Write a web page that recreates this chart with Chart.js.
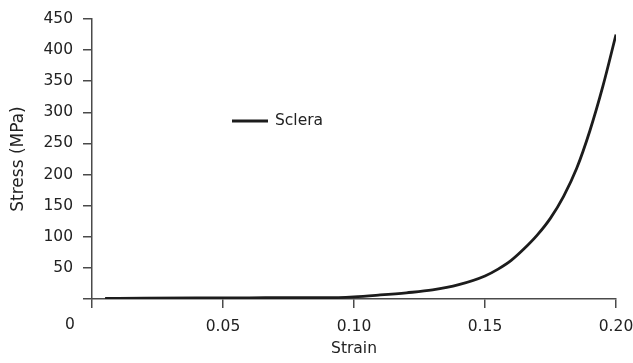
<!DOCTYPE html>
<html>
<head>
<meta charset="utf-8">
<script src="https://cdn.jsdelivr.net/npm/chart.js@4"></script>
<style>
  html, body { margin: 0; padding: 0; background: #fff; }
  #wrap { width: 633px; height: 363px; position: relative; }
</style>
</head>
<body>
<div id="wrap"><canvas id="sclera-chart"></canvas></div>
<script>
//
// Stress-strain curve
//

// Data
var strain = [0.005, 0.02, 0.04, 0.06, 0.075, 0.09, 0.10, 0.11, 0.12, 0.13, 0.14, 0.15, 0.155, 0.16, 0.165, 0.17, 0.175, 0.18, 0.185, 0.19, 0.195, 0.20];
var stress = [1, 1.3, 1.6, 1.8, 2.2, 2, 3.5, 6.5, 10, 14.5, 23, 37, 48, 62, 81, 103, 130, 165, 210, 270, 342, 425];
var seriesName = 'Sclera';
var xTicks = [0, 0.05, 0.10, 0.15, 0.20];
var yTicks = [0, 50, 100, 150, 200, 250, 300, 350, 400, 450];

var ink = '#222';
var axisColor = '#4a4a4a';
var font = { family: '"DejaVu Sans", sans-serif', size: 15.5 };
var titleFont = { family: '"DejaVu Sans", sans-serif', size: 17 };

var points = strain.map(function(x, i) { return { x: x, y: stress[i] }; });

// Legend entry and the shared origin label
var extras = {
	id: 'extras',
	afterDraw: function(chart) {
		var ctx = chart.ctx;
		var area = chart.chartArea;
		var xs = chart.scales.x;
		var ys = chart.scales.y;

		ctx.save();
		ctx.strokeStyle = '#1c1c1c';
		ctx.lineWidth = 2.8;
		ctx.beginPath();
		ctx.moveTo(area.left + 140, area.top + 102);
		ctx.lineTo(area.left + 176, area.top + 102);
		ctx.stroke();

		ctx.fillStyle = ink;
		ctx.font = font.size + 'px ' + font.family;
		ctx.textBaseline = 'middle';
		ctx.textAlign = 'left';
		ctx.fillText(seriesName, area.left + 183, area.top + 102);

		ctx.textAlign = 'center';
		ctx.fillText('0', xs.getPixelForValue(0) - 22, ys.getPixelForValue(0) + 26);
		ctx.restore();
	}
};

var chart = new Chart(document.getElementById('sclera-chart'), {
	type: 'line',
	data: {
		datasets: [{
			label: seriesName,
			data: points,
			borderColor: '#1c1c1c',
			borderWidth: 2.8,
			pointRadius: 0,
			cubicInterpolationMode: 'monotone',
			fill: false
		}]
	},
	options: {
		responsive: true,
		maintainAspectRatio: false,
		animation: false,
		layout: { padding: { top: 19, right: 17, left: 0, bottom: 0 } },
		plugins: {
			legend: { display: false },
			tooltip: { enabled: false }
		},
		scales: {
			x: {
				type: 'linear',
				min: 0,
				max: 0.2,
				afterBuildTicks: function(scale) {
					scale.ticks = xTicks.map(function(v) { return { value: v }; });
				},
				afterFit: function(scale) {
					scale.height = 64;
					scale.paddingLeft = 0;
					scale.paddingRight = 0;
				},
				border: { display: true, color: axisColor, width: 1.5 },
				grid: { drawOnChartArea: false, drawTicks: true, tickLength: 9, color: axisColor, lineWidth: 1.5 },
				ticks: {
					color: ink,
					font: font,
					padding: 10,
					maxRotation: 0,
					callback: function(v) { return v === 0 ? '' : v.toFixed(2); }
				},
				title: { display: true, text: 'Strain', color: ink, font: font, padding: { top: 0, bottom: 5 } }
			},
			y: {
				min: 0,
				max: 450,
				afterBuildTicks: function(scale) {
					scale.ticks = yTicks.map(function(v) { return { value: v }; });
				},
				afterFit: function(scale) {
					scale.width = 92;
					scale.paddingTop = 0;
					scale.paddingBottom = 0;
				},
				border: { display: true, color: axisColor, width: 1.5 },
				grid: { drawOnChartArea: false, drawTicks: true, tickLength: 9, color: axisColor, lineWidth: 1.5 },
				ticks: {
					color: ink,
					font: font,
					padding: 10,
					callback: function(v) { return v === 0 ? '' : v; }
				},
				title: { display: true, text: 'Stress (MPa)', color: ink, font: titleFont, padding: { top: 8, bottom: 0 } }
			}
		}
	},
	plugins: [extras]
});
</script>
</body>
</html>
